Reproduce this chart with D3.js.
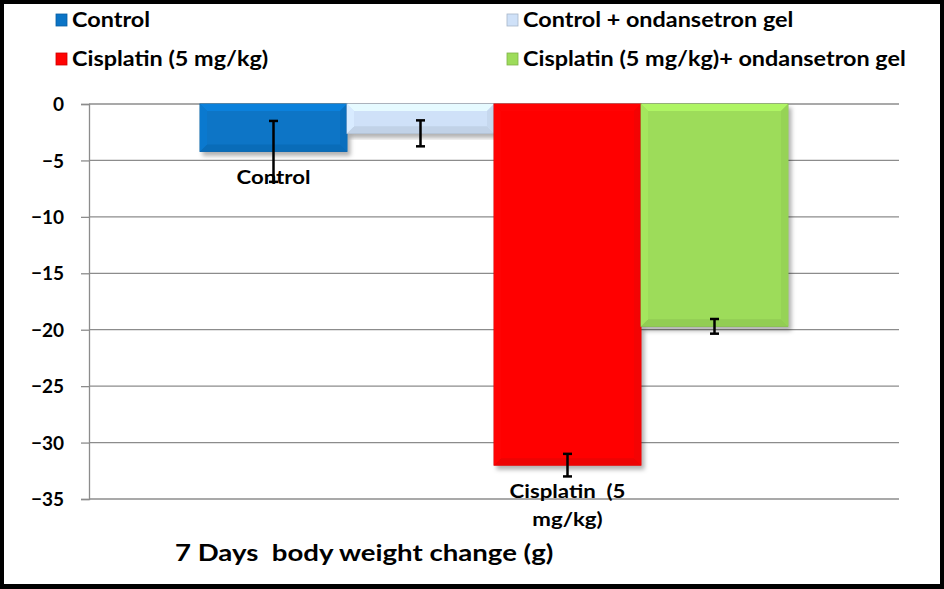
<!DOCTYPE html>
<html>
<head>
<meta charset="utf-8">
<script src="https://cdn.jsdelivr.net/npm/d3@7"></script>
<style>
  body { margin: 0; background: #fff; }
  text { font-family: Lato, "Open Sans", sans-serif; font-weight: bold; white-space: pre; }
</style>
</head>
<body>
<svg id="chart" width="944" height="589"></svg>
<script>
// data
var series = ["Control", "Control + ondansetron gel", "Cisplatin (5 mg/kg)", "Cisplatin (5 mg/kg)+ ondansetron gel"]
var values = [-4.2, -2.6, -32.0, -19.7]
var errors = [2.7, 1.15, 1.0, 0.65]
var barLabels = [["Control"], [], ["Cisplatin  (5", "mg/kg)"], []]
var colors = ["#0a74c6", "#cfe1f8", "#ff0303", "#9ddc5a"]
var yTicks = [0, -5, -10, -15, -20, -25, -30, -35]
var title = "7 Days  body weight change (g)"

var svg = d3.select("#chart")
var W = 944, H = 589
var plot = {left: 89, right: 899, top: 104, bottom: 499}
var stretch = 1.17 // the original font is wider than Lato

var defs = svg.append("defs")
defs.append("filter").attr("id", "shadow")
  .attr("x", "-10%").attr("y", "-10%").attr("width", "130%").attr("height", "130%")
  .append("feDropShadow")
  .attr("dx", 3).attr("dy", 4).attr("stdDeviation", 2)
  .attr("flood-color", "#000").attr("flood-opacity", 0.3)

var y = d3.scaleLinear().domain([0, -35]).range([plot.top, plot.bottom])
var x = d3.scaleBand().domain(series).range([200, 788]).padding(0)

// gridlines
svg.append("g").selectAll("line")
  .data(yTicks)
  .enter()
  .append("line")
  .attr("x1", plot.left).attr("x2", plot.right)
  .attr("y1", function(d){ return y(d) }).attr("y2", function(d){ return y(d) })
  .attr("stroke", "#8c8c8c").attr("stroke-width", 1.3)

// y axis
var yAxis = d3.axisLeft(y).tickValues(yTicks).tickSize(8).tickPadding(17)
var ag = svg.append("g").attr("transform", "translate(" + plot.left + ",0)").call(yAxis)
ag.select(".domain").attr("stroke", "#8c8c8c").attr("stroke-width", 1.3)
ag.selectAll(".tick line").attr("stroke", "#8c8c8c").attr("stroke-width", 1.3)
ag.selectAll(".tick text")
  .style("font-family", "Lato, sans-serif").style("font-weight", "bold")
  .attr("font-size", 19).attr("fill", "#000").attr("dy", "0.35em")

// bars with a bevel look
var bars = svg.append("g").selectAll("g.bar")
  .data(series.map(function(s, i){ return {name: s, v: values[i], e: errors[i], c: colors[i], lab: barLabels[i]} }))
  .enter()
  .append("g")
  .attr("class", "bar")

bars.append("rect")
  .attr("x", function(d){ return x(d.name) })
  .attr("y", y(0))
  .attr("width", x.bandwidth())
  .attr("height", function(d){ return y(d.v) - y(0) })
  .attr("fill", function(d){ return d.c })
  .attr("stroke", function(d){ return d3.color(d.c).darker(0.5) })
  .attr("stroke-width", 1)
  .attr("filter", "url(#shadow)")

var bv = 7
function bevel(side) {
  return function(d) {
    var x0 = x(d.name), x1 = x0 + x.bandwidth(), y0 = y(0), y1 = y(d.v)
    var b = Math.min(bv, (y1 - y0) / 3)
    var p = {
      top: [[x0, y0], [x1, y0], [x1 - b, y0 + b], [x0 + b, y0 + b]],
      bottom: [[x0, y1], [x1, y1], [x1 - b, y1 - b], [x0 + b, y1 - b]],
      right: [[x1, y0], [x1, y1], [x1 - b, y1 - b], [x1 - b, y0 + b]],
      left: [[x0, y0], [x0, y1], [x0 + b, y1 - b], [x0 + b, y0 + b]]
    }
    return p[side].join(" ")
  }
}
bars.append("polygon").attr("points", bevel("top"))
  .attr("fill", function(d){ return d3.color(d.c).brighter(0.3) })
bars.append("polygon").attr("points", bevel("bottom"))
  .attr("fill", function(d){ return d3.color(d.c).darker(0.2) })
bars.append("polygon").attr("points", bevel("right"))
  .attr("fill", function(d){ return d3.color(d.c).darker(0.12) })
bars.append("polygon").attr("points", bevel("left"))
  .attr("fill", function(d){ return d3.color(d.c).brighter(0.12) })

// data labels
bars.each(function(d){
  var g = d3.select(this)
  d.lab.forEach(function(t, k){
    g.append("text")
      .attr("transform", "translate(" + (x(d.name) + x.bandwidth() / 2) + "," + (y(d.v) + 33 + k * 28) + ") scale(" + stretch + ",1)")
      .attr("text-anchor", "middle")
      .attr("font-size", 19)
      .text(t)
  })
})

// error bars
var eb = bars.append("g").attr("stroke", "#000")
eb.append("line")
  .attr("x1", function(d){ return x(d.name) + x.bandwidth() / 2 })
  .attr("x2", function(d){ return x(d.name) + x.bandwidth() / 2 })
  .attr("y1", function(d){ return y(d.v + d.e) })
  .attr("y2", function(d){ return y(d.v - d.e) })
  .attr("stroke-width", 2.5)
eb.selectAll("line.cap")
  .data(function(d){ return [d.v + d.e, d.v - d.e].map(function(v){ return {v: v, cx: x(d.name) + x.bandwidth() / 2} }) })
  .enter()
  .append("line")
  .attr("class", "cap")
  .attr("x1", function(d){ return d.cx - 4.5 }).attr("x2", function(d){ return d.cx + 4.5 })
  .attr("y1", function(d){ return y(d.v) }).attr("y2", function(d){ return y(d.v) })
  .attr("stroke-width", 2.5)

// legend
var legPos = [[56, 20], [507, 20], [56, 59], [507, 59]]
var leg = svg.append("g").selectAll("g")
  .data(series)
  .enter()
  .append("g")
  .attr("transform", function(d, i){ return "translate(" + legPos[i][0] + "," + legPos[i][1] + ")" })
leg.append("rect")
  .attr("x", 0).attr("y", -6).attr("width", 11).attr("height", 12)
  .attr("fill", function(d, i){ return colors[i] })
  .attr("stroke", function(d, i){ return d3.color(colors[i]).darker(0.6) })
  .attr("stroke-width", 0.8)
leg.append("text")
  .attr("transform", "translate(16,0) scale(" + stretch + ",1)")
  .attr("dy", "0.36em")
  .attr("font-size", 20)
  .text(function(d){ return d })

// title
svg.append("text")
  .attr("transform", "translate(175,561) scale(1.2,1)")
  .attr("font-size", 23)
  .text(title)

// black frame
svg.append("rect")
  .attr("x", 1.5).attr("y", 1.5).attr("width", W - 3).attr("height", H - 4)
  .attr("fill", "none").attr("stroke", "#000").attr("stroke-width", 5)
</script>
</body>
</html>
